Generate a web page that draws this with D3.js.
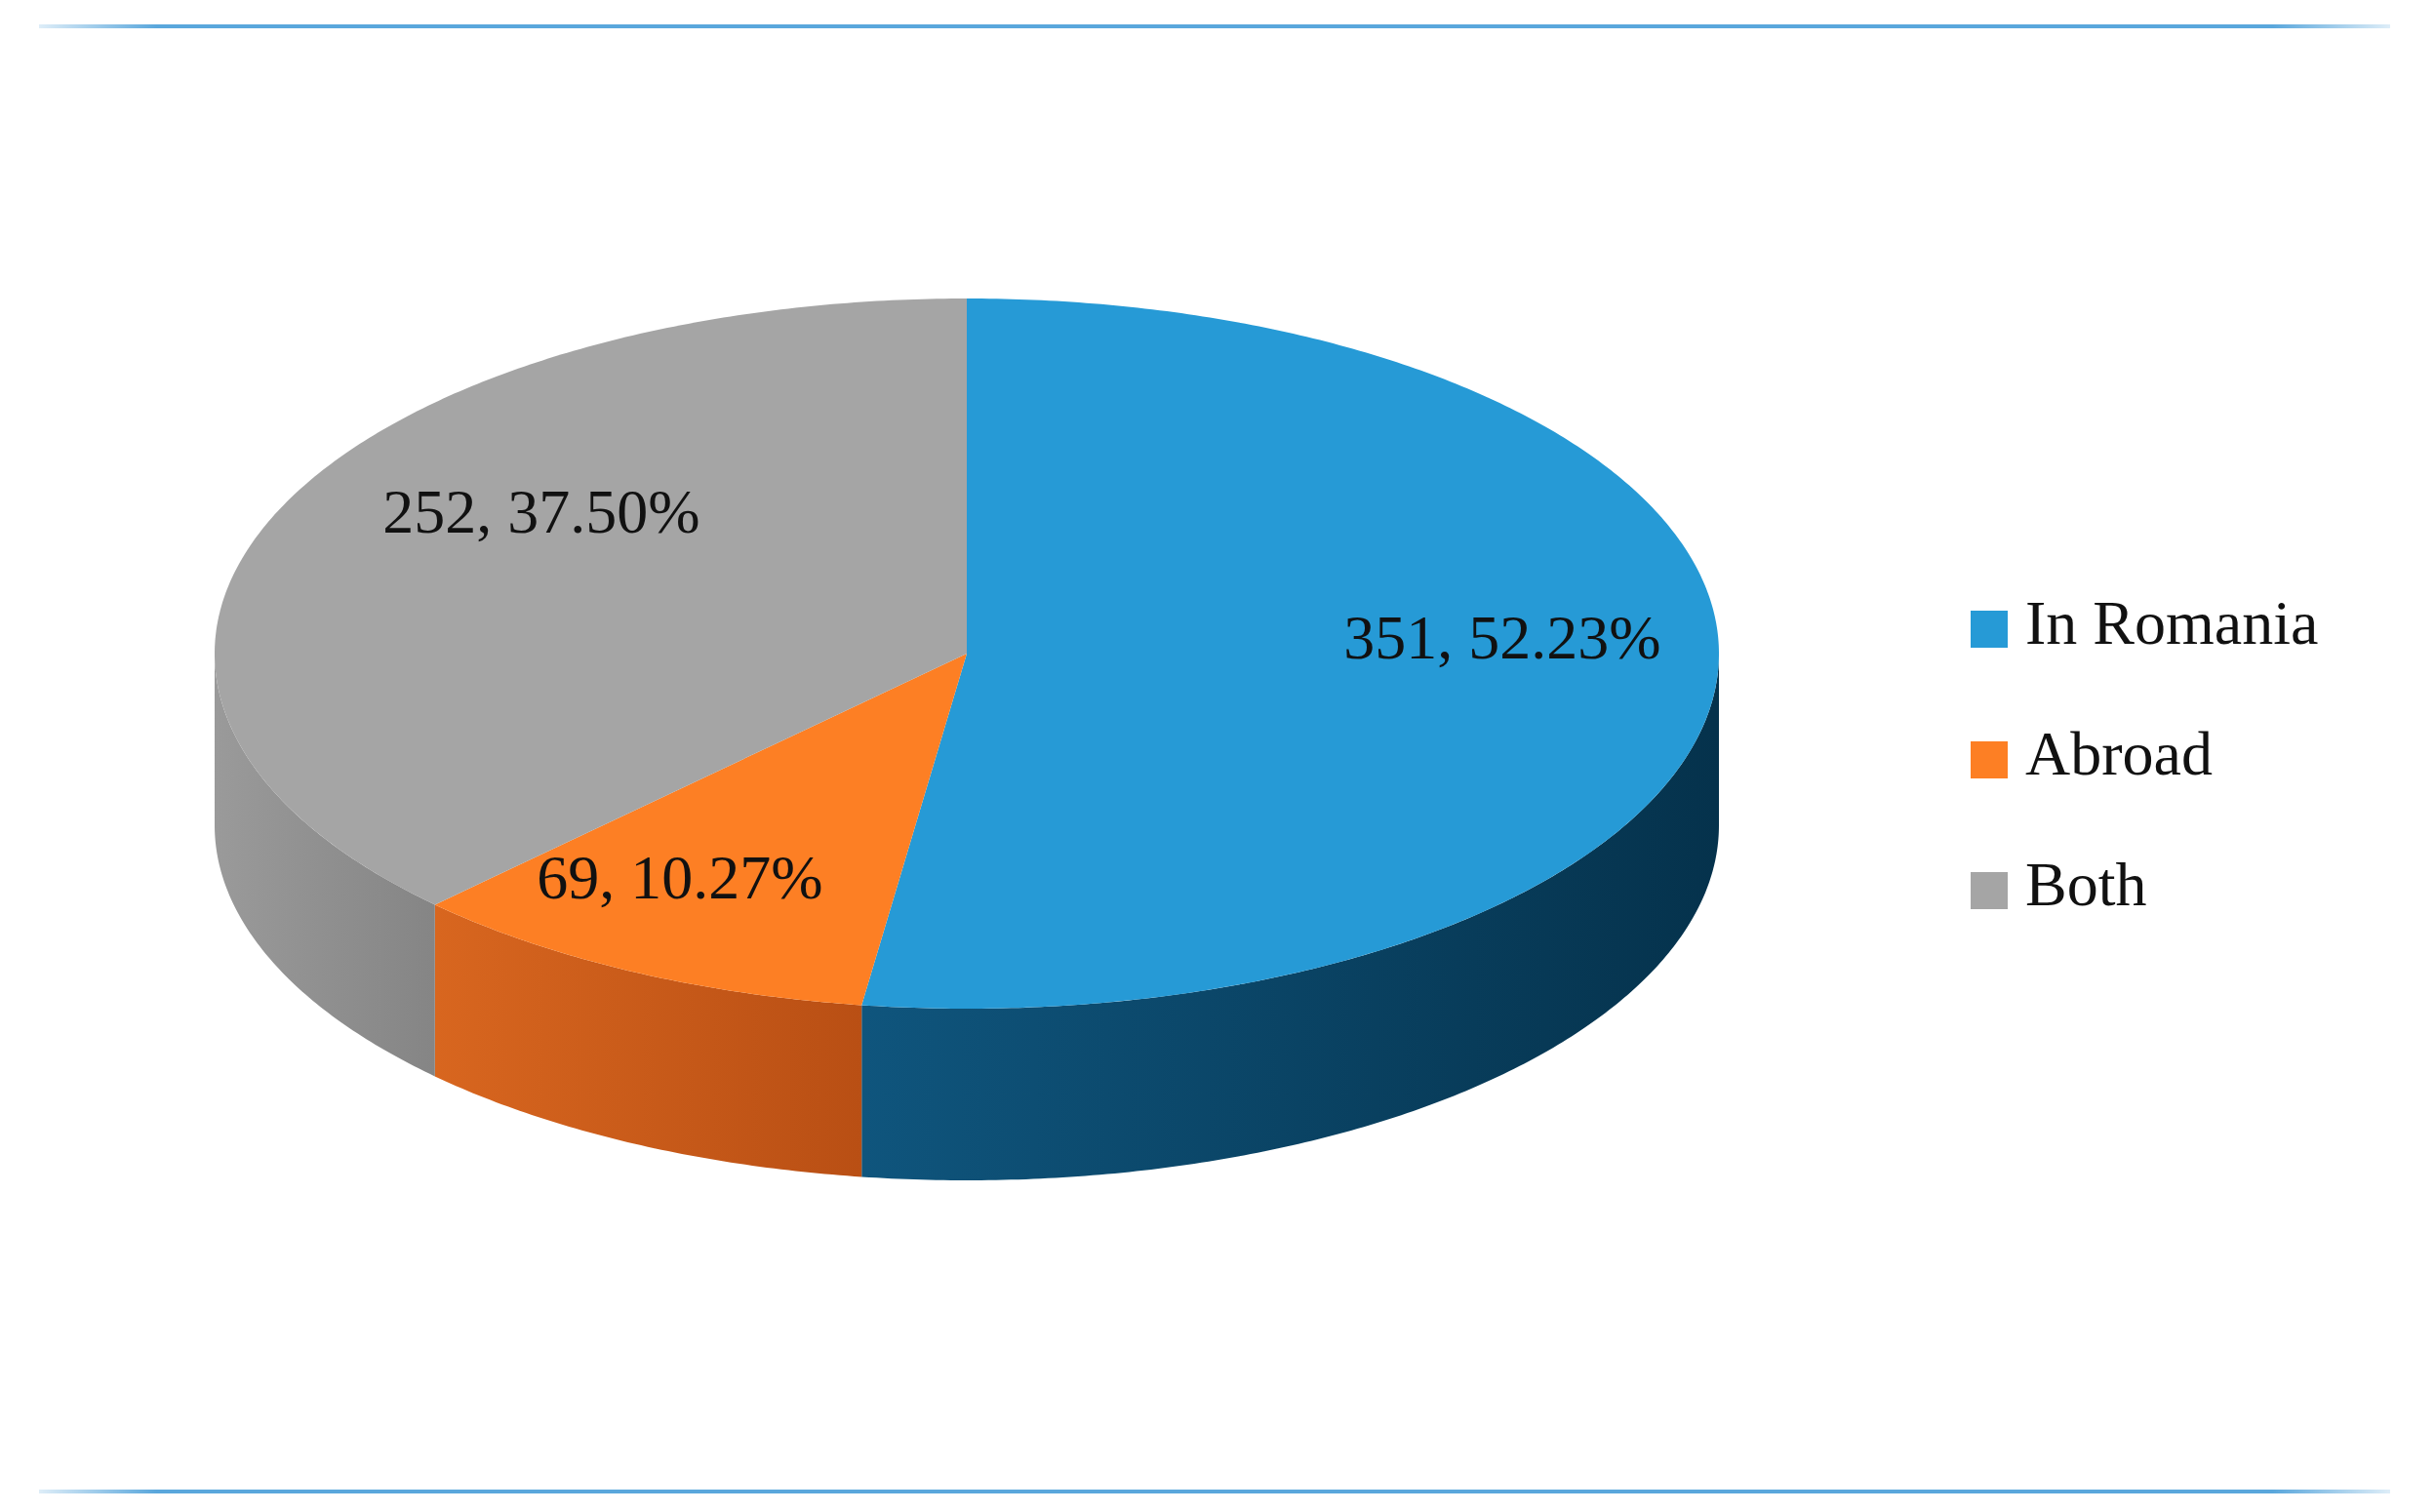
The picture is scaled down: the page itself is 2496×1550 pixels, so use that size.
<!DOCTYPE html>
<html><head><meta charset="utf-8">
<script src="https://cdn.jsdelivr.net/npm/d3@7"></script>
<style>body{margin:0;background:#fff}svg{display:block}</style></head>
<body><svg id="c" width="2496" height="1550"></svg>
<script>
const categories = ["In Romania", "Abroad", "Both"];
const counts = [351, 69, 252];
const percents = ["52.23%", "10.27%", "37.50%"];
const topColors = ["#269ad6", "#fd7f24", "#a5a5a5"];
const sideDark = ["#05324c", "#b94f14", "#858585"];
const sideLight = ["#0f557d", "#d8661f", "#9a9a9a"];

const svg = d3.select("#c");
const W = 2496;
const cx = 991, cy = 670, rx = 771, ry = 364, depth = 176;

// rules
const lg = svg.append("defs").append("linearGradient").attr("id","rule");
lg.append("stop").attr("offset","0").attr("stop-color","#5aa7dc").attr("stop-opacity",0.2);
lg.append("stop").attr("offset","0.05").attr("stop-color","#5aa7dc");
lg.append("stop").attr("offset","0.95").attr("stop-color","#5aa7dc");
lg.append("stop").attr("offset","1").attr("stop-color","#5aa7dc").attr("stop-opacity",0.2);
[27, 1529].forEach(y => svg.append("rect").attr("x",40).attr("y",y-2).attr("width",2410).attr("height",4).attr("fill","url(#rule)"));

const pie = d3.pie().sort(null).value(d => d);
const arcs = pie(counts);
const pt = (a, dy=0) => [cx + rx*Math.sin(a), cy - ry*Math.cos(a) + dy];
function arcPts(a0, a1, dy=0){
  const n = Math.max(2, Math.ceil((a1-a0)/0.01));
  return d3.range(n+1).map(i => pt(a0 + (a1-a0)*i/n, dy));
}
const defs = svg.select("defs");
// sides
arcs.forEach((d,i) => {
  const a0 = Math.max(d.startAngle, Math.PI/2), a1 = Math.min(d.endAngle, 3*Math.PI/2);
  if (a1 <= a0) return;
  const top = arcPts(a0, a1, 0), bot = arcPts(a0, a1, depth).reverse();
  const g = defs.append("linearGradient").attr("id","s"+i).attr("gradientUnits","userSpaceOnUse")
    .attr("x1", pt(a1)[0]).attr("x2", pt(a0)[0]).attr("y1",0).attr("y2",0);
  g.append("stop").attr("offset","0").attr("stop-color", sideLight[i]);
  g.append("stop").attr("offset","1").attr("stop-color", sideDark[i]);
  svg.append("path").attr("d", "M" + top.concat(bot).map(p=>p.join(",")).join("L") + "Z")
    .attr("fill","url(#s"+i+")");
});
// tops
arcs.forEach((d,i) => {
  const p = arcPts(d.startAngle, d.endAngle);
  svg.append("path").attr("d", `M${cx},${cy}L` + p.map(q=>q.join(",")).join("L") + "Z")
    .attr("fill", topColors[i]);
});
// labels
const labelPos = [[1540,660],[697,906],[555,531]];
arcs.forEach((d,i) => {
  svg.append("text").attr("x",labelPos[i][0]).attr("y",labelPos[i][1]).attr("text-anchor","middle")
    .attr("dominant-baseline","middle").attr("font-family","Liberation Serif, serif").attr("font-size",64)
    .attr("fill","#111").text(`${counts[i]}, ${percents[i]}`);
});
// legend
const ly = d3.scalePoint().domain(categories).range([645, 913]);
categories.forEach((c,i) => {
  svg.append("rect").attr("x",2020).attr("y",ly(c)-19).attr("width",38).attr("height",38).attr("fill",topColors[i]);
  svg.append("text").attr("x",2076).attr("y",ly(c)).attr("dominant-baseline","middle")
    .attr("font-family","Liberation Serif, serif").attr("font-size",64).attr("fill","#111").text(c);
});
</script></body></html>
